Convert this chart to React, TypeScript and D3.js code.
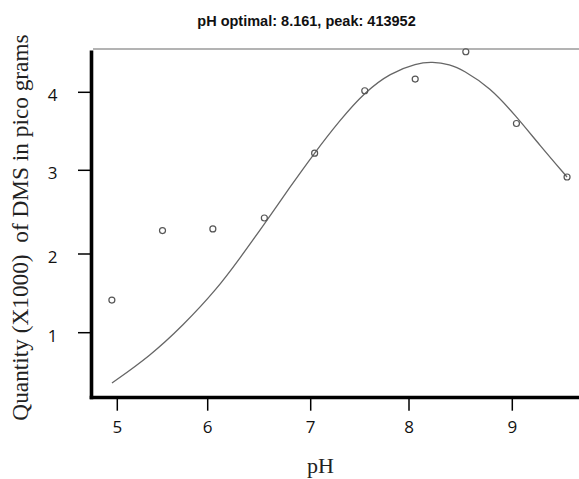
import React from "react";
import * as d3 from "d3";

// ---- data ----
const title = "pH optimal: 8.161, peak: 413952";
const xLabel = "pH";
const yLabel = "Quantity (X1000)  of DMS in pico grams";
const xTicks = [5, 6, 7, 8, 9];
const yTicks = [1, 2, 3, 4];

const phValues = [4.94, 5.5, 6.05, 6.55, 7.04, 7.55, 8.06, 8.55, 9.04, 9.53];
const quantities = [1.415, 2.28, 2.3, 2.43, 3.22, 4.02, 4.17, 4.52, 3.6, 2.92];

const fitPh = [4.941, 5.362, 5.727, 6.09, 6.314, 6.537, 6.799, 7.034, 7.298, 7.552, 7.807, 8.077, 8.223, 8.397, 8.523, 8.784, 9.036, 9.268, 9.53];
const fitQuantity = [0.361, 0.704, 1.091, 1.555, 1.949, 2.335, 2.8, 3.215, 3.645, 4.004, 4.247, 4.372, 4.392, 4.356, 4.286, 4.062, 3.696, 3.318, 2.92];

// ---- layout ----
const W = 579;
const H = 479;
const xTickPx = [117.3, 207.7, 310.7, 409, 512.3];
const yTickPx = [332.7, 254, 170.3, 92.3];
const axisX = 91.5;
const axisY = 397.5;
const topY = 49;

export default function App() {
  const x = d3.scaleLinear().domain(xTicks).range(xTickPx);
  const y = d3.scaleLinear().domain(yTicks).range(yTickPx);

  const fitData = fitPh.map((p, i) => [p, fitQuantity[i]] as [number, number]);
  const line = d3
    .line<[number, number]>()
    .x((d) => x(d[0]))
    .y((d) => y(d[1]))
    .curve(d3.curveBasis);

  return (
    <svg
      width={W}
      height={H}
      viewBox={`0 0 ${W} ${H}`}
      style={{ position: "absolute", left: 0, top: 0, background: "#fff" }}
    >
      <rect x={0} y={0} width={W} height={H} fill="#fff" />
      {/* title */}
      <text
        x={306.5}
        y={26}
        textAnchor="middle"
        fontFamily="'Liberation Sans', Arial, sans-serif"
        fontWeight="bold"
        fontSize={14.5}
        fill="#111"
      >
        {title}
      </text>

      {/* top grey frame line */}
      <line x1={93} x2={W} y1={topY} y2={topY} stroke="#9a9a9a" strokeWidth={1.6} />

      {/* fitted curve */}
      <path d={line(fitData) || ""} fill="none" stroke="#666" strokeWidth={1.3} />

      {/* points */}
      {phValues.map((p, i) => (
        <circle
          key={i}
          cx={x(p)}
          cy={y(quantities[i])}
          r={3}
          fill="none"
          stroke="#555"
          strokeWidth={1.2}
        />
      ))}

      {/* axes */}
      <line x1={axisX} x2={axisX} y1={50.5} y2={axisY + 1.7} stroke="#000" strokeWidth={3.6} />
      <line x1={axisX - 1.8} x2={W} y1={axisY} y2={axisY} stroke="#000" strokeWidth={3.4} />

      {/* y ticks */}
      {yTicks.map((t) => (
        <g key={t}>
          <line x1={78} x2={axisX} y1={y(t)} y2={y(t)} stroke="#000" strokeWidth={1.5} />
          <text
            x={52.5}
            y={y(t) + 9}
            textAnchor="middle"
            fontFamily="'Open Sans', 'DejaVu Sans', sans-serif"
            fontSize={17}
            fill="#111"
          >
            {t}
          </text>
        </g>
      ))}

      {/* x ticks */}
      {xTicks.map((t) => (
        <g key={t}>
          <line x1={x(t)} x2={x(t)} y1={axisY} y2={410.7} stroke="#000" strokeWidth={1.5} />
          <text
            x={x(t)}
            y={433}
            textAnchor="middle"
            fontFamily="'Open Sans', 'DejaVu Sans', sans-serif"
            fontSize={17}
            fill="#111"
          >
            {t}
          </text>
        </g>
      ))}

      {/* axis titles */}
      <text
        x={320.5}
        y={473}
        textAnchor="middle"
        fontFamily="'Liberation Serif', 'Times New Roman', serif"
        fontSize={22}
        fill="#222"
      >
        {xLabel}
      </text>
      <text
        transform={`translate(27.5, 227.5) rotate(-90)`}
        textAnchor="middle"
        fontFamily="'Liberation Serif', 'Times New Roman', serif"
        fontSize={23.3}
        fill="#222"
        xmlSpace="preserve"
      >
        {yLabel}
      </text>
    </svg>
  );
}
